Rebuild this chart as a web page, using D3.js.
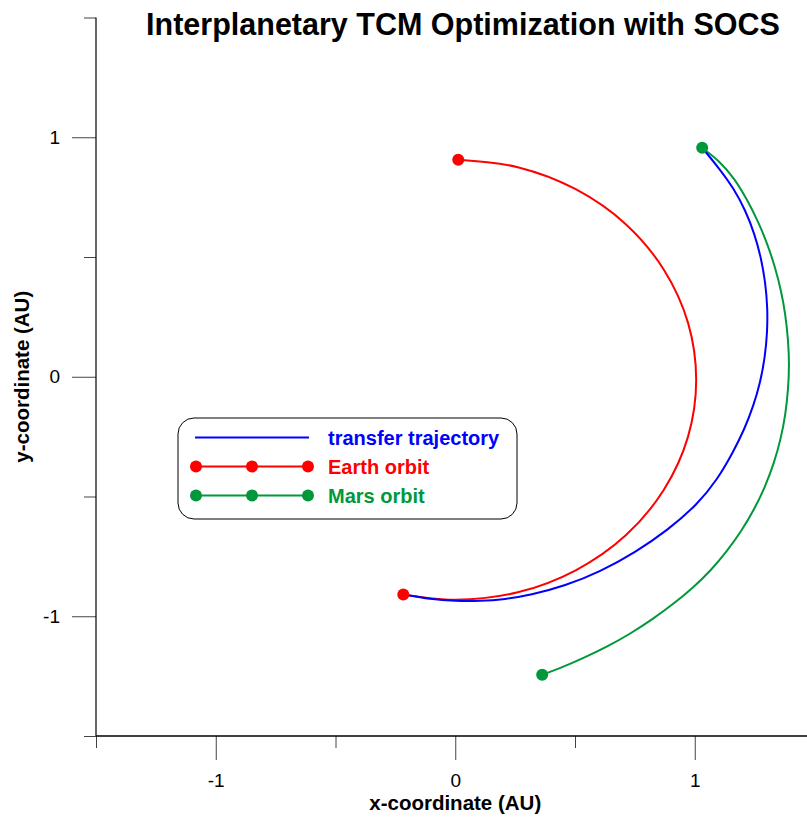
<!DOCTYPE html>
<html>
<head>
<meta charset="utf-8">
<script src="https://cdn.jsdelivr.net/npm/d3@7"></script>
<style>
  body { margin: 0; background: #fff; }
  text { font-family: "Liberation Sans", Arial, sans-serif; }
</style>
</head>
<body>
<div id="chart"></div>
<script>
// points, in AU
var transferX = [-0.217, -0.104, 0.000, 0.104, 0.209, 0.313, 0.459, 0.605, 0.752, 0.889, 1.010, 1.094, 1.161, 1.207, 1.245, 1.274, 1.293, 1.303, 1.304, 1.295, 1.277, 1.250, 1.212, 1.163, 1.102, 1.031];
var transferY = [-0.909, -0.929, -0.937, -0.937, -0.929, -0.912, -0.873, -0.814, -0.733, -0.639, -0.534, -0.430, -0.313, -0.220, -0.122, -0.022, 0.081, 0.185, 0.289, 0.393, 0.496, 0.596, 0.694, 0.786, 0.870, 0.956];

var earthX = [0.0125, 0.261, 0.503, 0.712, 0.871, 0.972, 1.006, 0.972, 0.871, 0.712, 0.503, 0.261, 0.000, -0.217];
var earthY = [0.906, 0.875, 0.783, 0.637, 0.447, 0.225, -0.0125, -0.250, -0.472, -0.662, -0.808, -0.900, -0.931, -0.909];

var marsX = [1.031, 1.102, 1.165, 1.219, 1.265, 1.305, 1.336, 1.361, 1.379, 1.390, 1.395, 1.390, 1.379, 1.359, 1.331, 1.294, 1.249, 1.196, 1.135, 1.068, 0.993, 0.913, 0.823, 0.731, 0.635, 0.535, 0.438, 0.363];
var marsY = [0.956, 0.902, 0.829, 0.739, 0.647, 0.551, 0.455, 0.359, 0.258, 0.155, 0.050, -0.054, -0.158, -0.261, -0.361, -0.459, -0.553, -0.643, -0.728, -0.808, -0.881, -0.947, -1.013, -1.073, -1.127, -1.175, -1.217, -1.244];

var majorTicks = [-1, 0, 1];
var minorTicks = [-1.5, -0.5, 0.5, 1.5];

var width = 807, height = 820;
var margin = { top: 17.5, left: 96 };
var unit = 239.5;

var svg = d3.select("#chart").append("svg")
  .attr("width", width)
  .attr("height", height);

var x = d3.scaleLinear().domain([-1.5, 1.5]).range([margin.left, margin.left + 3 * unit]);
var y = d3.scaleLinear().domain([-1.5, 1.5]).range([margin.top + 3 * unit, margin.top]);

// axes: major ticks labelled, minor ticks shorter
var xAxisY = y(-1.5), yAxisX = x(-1.5);
var fmt = function (d) { return String(d); };

svg.append("g").attr("transform", "translate(0," + xAxisY + ")")
  .call(d3.axisBottom(x).tickValues(majorTicks).tickSize(24).tickSizeOuter(0).tickFormat(fmt).tickPadding(14))
  .call(g => g.select(".domain").remove())
  .call(g => g.selectAll("text").attr("font-size", 19).attr("fill", "#000"));
svg.append("g").attr("transform", "translate(0," + xAxisY + ")")
  .call(d3.axisBottom(x).tickValues(minorTicks).tickSize(12).tickFormat(""))
  .call(g => g.select(".domain").remove());

svg.append("g").attr("transform", "translate(" + yAxisX + ",0)")
  .call(d3.axisLeft(y).tickValues(majorTicks).tickSize(24).tickSizeOuter(0).tickFormat(fmt).tickPadding(12))
  .call(g => g.select(".domain").remove())
  .call(g => g.selectAll("text").attr("font-size", 19).attr("fill", "#000"));
svg.append("g").attr("transform", "translate(" + yAxisX + ",0)")
  .call(d3.axisLeft(y).tickValues(minorTicks).tickSize(12).tickFormat(""))
  .call(g => g.select(".domain").remove());

svg.selectAll(".tick line").attr("stroke", "#444").attr("stroke-width", 1);

svg.append("line")
  .attr("x1", x(-1.5)).attr("x2", x(1.5))
  .attr("y1", xAxisY).attr("y2", xAxisY)
  .attr("stroke", "#000").attr("stroke-width", 1.5);
svg.append("line")
  .attr("x1", yAxisX).attr("x2", yAxisX)
  .attr("y1", y(1.5)).attr("y2", y(-1.5))
  .attr("stroke", "#000").attr("stroke-width", 1.2);

// titles
svg.append("text")
  .attr("x", 463).attr("y", 35)
  .attr("text-anchor", "middle")
  .attr("font-size", 30.5).attr("font-weight", "bold")
  .text("Interplanetary TCM Optimization with SOCS");

svg.append("text")
  .attr("x", x(0)).attr("y", 810)
  .attr("text-anchor", "middle")
  .attr("font-size", 20.5).attr("font-weight", "bold")
  .text("x-coordinate (AU)");

svg.append("text")
  .attr("transform", "translate(29," + y(0) + ") rotate(-90)")
  .attr("text-anchor", "middle")
  .attr("font-size", 20.5).attr("font-weight", "bold")
  .text("y-coordinate (AU)");

// curves (earth points are sparse so they get an interpolating curve,
// the denser ones a smoothing b-spline)
var series = [
  { name: "Earth orbit", xs: earthX, ys: earthY, color: "#ff0000", markers: true, curve: d3.curveCatmullRom.alpha(0.5) },
  { name: "Mars orbit", xs: marsX, ys: marsY, color: "#00983a", markers: true, curve: d3.curveBasis },
  { name: "transfer trajectory", xs: transferX, ys: transferY, color: "#0000ff", markers: false, curve: d3.curveBasis }
];

series.forEach(function (s) {
  var pts = s.xs.map(function (v, i) { return [v, s.ys[i]]; });
  var line = d3.line()
    .x(function (d) { return x(d[0]); })
    .y(function (d) { return y(d[1]); })
    .curve(s.curve);
  svg.append("path")
    .datum(pts)
    .attr("fill", "none")
    .attr("stroke", s.color)
    .attr("stroke-width", 2)
    .attr("d", line);
});

// end markers drawn on top
series.filter(function (s) { return s.markers; }).forEach(function (s) {
  var ends = [[s.xs[0], s.ys[0]], [s.xs[s.xs.length - 1], s.ys[s.ys.length - 1]]];
  svg.selectAll(null).data(ends).enter().append("circle")
    .attr("cx", function (d) { return x(d[0]); })
    .attr("cy", function (d) { return y(d[1]); })
    .attr("r", 6)
    .attr("fill", s.color);
});

// legend
var legend = svg.append("g").attr("transform", "translate(178,418)");
legend.append("rect")
  .attr("width", 339).attr("height", 101)
  .attr("rx", 16).attr("ry", 16)
  .attr("fill", "#fff").attr("stroke", "#000").attr("stroke-width", 1);

var legendItems = [series[2], series[0], series[1]];
legendItems.forEach(function (s, i) {
  var ly = 19.5 + i * 29;
  legend.append("line")
    .attr("x1", 17).attr("x2", 131)
    .attr("y1", ly).attr("y2", ly)
    .attr("stroke", s.color).attr("stroke-width", 2);
  if (s.markers) {
    [18, 74, 130].forEach(function (mx) {
      legend.append("circle").attr("cx", mx).attr("cy", ly).attr("r", 6).attr("fill", s.color);
    });
  }
  legend.append("text")
    .attr("x", 150).attr("y", ly + 7)
    .attr("font-size", 20).attr("font-weight", "bold")
    .attr("fill", s.color)
    .text(s.name);
});
</script>
</body>
</html>
